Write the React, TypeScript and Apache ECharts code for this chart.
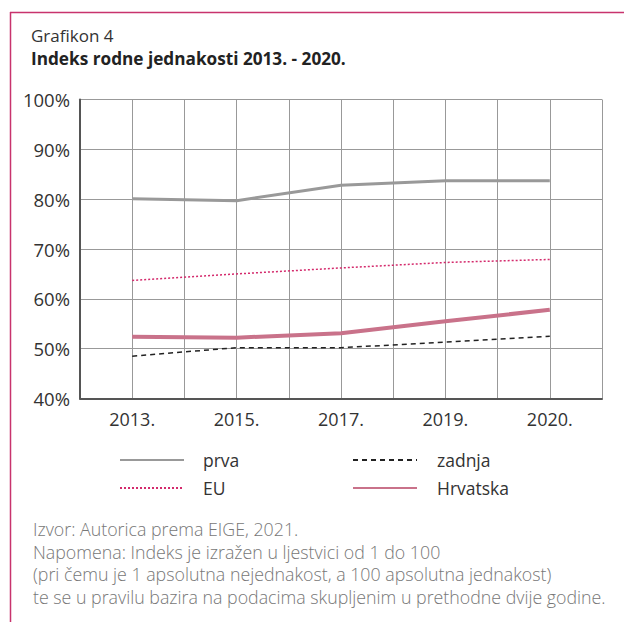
import React, { useEffect, useRef } from "react";
import * as echarts from "echarts";

const categories = ["2013.", "2015.", "2017.", "2019.", "2020."];
const prva = [80.1, 79.7, 82.8, 83.7, 83.7];
const zadnja = [48.5, 50.2, 50.2, 51.3, 52.5];
const eu = [63.7, 65.0, 66.2, 67.3, 67.9];
const hrvatska = [52.4, 52.2, 53.1, 55.5, 57.8];
const yTicks = [40, 50, 60, 70, 80, 90, 100];

const titleLine1 = "Grafikon 4";
const titleLine2 = "Indeks rodne jednakosti 2013. - 2020.";
const footerLines = [
  "Izvor: Autorica prema EIGE, 2021.",
  "Napomena: Indeks je izražen u ljestvici od 1 do 100",
  "(pri čemu je 1 apsolutna nejednakost, a 100 apsolutna jednakost)",
  "te se u pravilu bazira na podacima skupljenim u prethodne dvije godine.",
];

const FONT = "'Open Sans', 'Noto Sans', sans-serif";
const BORDER = "#c8336d";

const toPairs = (arr: number[]) => arr.map((v, i) => [i, v]);

export default function App() {
  const ref = useRef<HTMLDivElement>(null);
  useEffect(() => {
    if (!ref.current) return;
    const chart = echarts.init(ref.current, undefined, { renderer: "svg" });
    const legendCommon = {
      orient: "vertical",
      top: 451,
      padding: 0,
      itemWidth: 64,
      itemHeight: 14,
      itemGap: 10,
      itemStyle: { opacity: 0, borderWidth: 0 },
    };
    const option: any = {
      animation: false,
      backgroundColor: "#fff",
      textStyle: { fontFamily: FONT },
      title: [
        {
          text: titleLine1,
          left: 31,
          top: 27,
          padding: 0,
          textStyle: { fontFamily: FONT, fontSize: 17, fontWeight: "normal", color: "#333" },
        },
        {
          text: titleLine2,
          left: 31,
          top: 50,
          padding: 0,
          textStyle: { fontFamily: FONT, fontSize: 17.2, fontWeight: "bold", color: "#222" },
        },
      ],
      legend: [
        {
          ...legendCommon,
          data: ["prva", "EU"],
          left: 119,
          textStyle: { fontFamily: FONT, fontSize: 17.5, color: "#333", padding: [0, 0, 0, 14] },
        },
        {
          ...legendCommon,
          data: ["zadnja", "Hrvatska"],
          left: 352,
          textStyle: { fontFamily: FONT, fontSize: 17.5, color: "#333", padding: [0, 0, 0, 15] },
        },
      ],
      grid: { left: 80, right: 22, top: 99.5, bottom: 223.5, containLabel: false },
      xAxis: {
        type: "value",
        min: -0.5,
        max: 4.5,
        interval: 0.5,
        axisLine: { show: true, onZero: false, lineStyle: { color: "#555", width: 2 } },
        axisTick: { show: false },
        splitLine: { show: true, lineStyle: { color: "#999", width: 1 } },
        axisLabel: {
          margin: 11,
          fontFamily: FONT,
          fontSize: 18,
          color: "#333",
          showMinLabel: true,
          showMaxLabel: true,
          formatter: (v: number) => {
            const r = Math.round(v);
            return Math.abs(v - r) < 1e-6 && r >= 0 && r < categories.length ? categories[r] : "";
          },
        },
      },
      yAxis: {
        type: "value",
        min: yTicks[0],
        max: yTicks[yTicks.length - 1],
        interval: 10,
        axisLine: { show: true, onZero: false, lineStyle: { color: "#555", width: 2 } },
        axisTick: { show: false },
        splitLine: { show: true, lineStyle: { color: "#999", width: 1 } },
        axisLabel: {
          margin: 10,
          fontFamily: FONT,
          fontSize: 18.5,
          color: "#333",
          formatter: (v: number) => `${v}%`,
        },
      },
      series: [
        {
          name: "prva",
          type: "line",
          data: toPairs(prva),
          symbol: "none",
          lineStyle: { color: "#999", width: 3 },
          itemStyle: { color: "#999" },
          z: 3,
        },
        {
          name: "zadnja",
          type: "line",
          data: toPairs(zadnja),
          symbol: "none",
          lineStyle: { color: "#222", width: 1.5, type: [5, 4] },
          itemStyle: { color: "#222" },
          z: 3,
        },
        {
          name: "EU",
          type: "line",
          data: toPairs(eu),
          symbol: "none",
          lineStyle: { color: "#d42a6c", width: 1.5, type: [2, 2] },
          itemStyle: { color: "#d42a6c" },
          z: 3,
        },
        {
          name: "Hrvatska",
          type: "line",
          data: toPairs(hrvatska),
          symbol: "none",
          lineStyle: { color: "#c9728a", width: 4 },
          itemStyle: { color: "#c9728a" },
          z: 4,
        },
      ],
      graphic: [
        {
          type: "line",
          shape: { x1: 10, y1: 12.5, x2: 624, y2: 12.5 },
          style: { stroke: BORDER, lineWidth: 1.5 },
        },
        {
          type: "line",
          shape: { x1: 10.5, y1: 12, x2: 10.5, y2: 622 },
          style: { stroke: BORDER, lineWidth: 1.5 },
        },
        {
          type: "text",
          left: 33,
          top: 518,
          style: {
            text: footerLines.join("\n"),
            fill: "#777",
            font: `300 17.8px ${FONT}`,
            lineHeight: 22.5,
          },
        },
      ],
    };
    chart.setOption(option);
    return () => chart.dispose();
  }, []);
  return (
    <div
      ref={ref}
      style={{ position: "fixed", left: 0, top: 0, width: 624, height: 622 }}
    />
  );
}
